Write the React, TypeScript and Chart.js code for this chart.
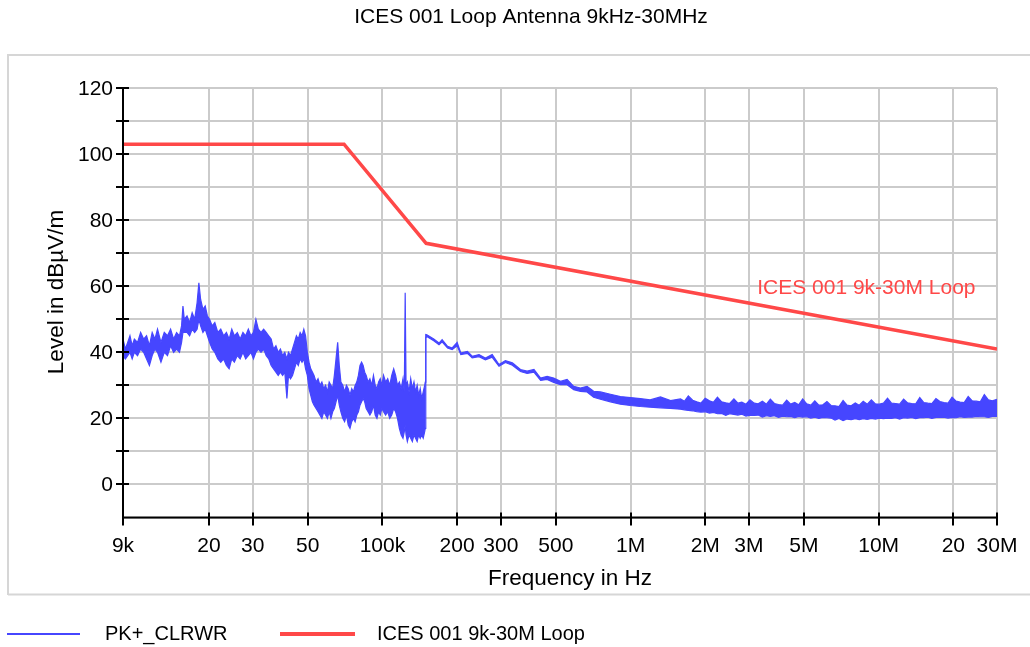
import React, { useEffect, useRef } from "react";
import { Chart, registerables } from "chart.js";

Chart.register(...registerables);

const chartTitle = "ICES 001 Loop Antenna 9kHz-30MHz";
const xAxisTitle = "Frequency in Hz";
const yAxisTitle = "Level in dBµV/m";
const pkName = "PK+_CLRWR";
const limitName = "ICES 001 9k-30M Loop";

const xTickValues = [9e3, 2e4, 3e4, 5e4, 1e5, 2e5, 3e5, 5e5, 1e6, 2e6, 3e6, 5e6, 1e7, 2e7, 3e7];
const xTickLabels = ["9k", "20", "30", "50", "100k", "200", "300", "500", "1M", "2M", "3M", "5M", "10M", "20", "30M"];
const yGridValues = [-10, 0, 10, 20, 30, 40, 50, 60, 70, 80, 90, 100, 110, 120];
const yLabelValues = [0, 20, 40, 60, 80, 100, 120];

// Limit line (frequency in kHz, level in dBµV/m)
const limitFreqKHz = [9, 70, 150, 30000];
const limitLevel = [103, 103, 73, 41];

// Label position of the limit-line annotation (data units)
const limitLabelFreq = 3.24e6;
const limitLabelLevel = 59.3;

// PK+ trace, read as upper / lower envelope at each frequency (kHz)
const pkFreqKHz = [
  9.0, 9.2, 9.4, 9.6, 9.8, 10.0, 10.3, 10.6, 10.9, 11.2, 11.5, 11.8, 12.1, 12.4, 12.8, 13.2, 13.6, 14.0, 14.4, 14.8,
  15.2, 15.5, 15.7, 15.9, 16.3, 16.7, 17.1, 17.5, 17.9, 18.2, 18.5, 18.9, 19.3, 19.7, 20.1, 20.6, 21.1, 21.7, 22.3, 22.9,
  23.5, 24.1, 24.7, 25.3, 26.0, 26.7, 27.4, 28.1, 28.8, 29.5, 30.2, 30.9, 31.6, 32.4, 33.2, 34.0, 34.8, 35.6, 36.4, 37.2,
  38.0, 38.8, 39.6, 40.4, 41.2, 41.8, 42.6, 43.4, 44.2, 45.0, 45.8, 46.6, 47.4, 48.2, 49.0, 49.8, 50.6, 51.4, 52.2, 53.0,
  54.0, 55.0, 56.0, 57.0, 58.0, 59.0, 60.0, 61.0, 62.0, 63.0, 64.0, 65.0, 66.0, 67.0, 68.0, 69.2, 70.4, 71.6, 72.8, 74.0,
  75.2, 76.4, 77.6, 78.8, 80.0, 81.2, 82.4, 83.6, 84.8, 86.0, 87.5, 89.0, 90.5, 92.0, 93.5, 95.0, 96.5, 98.0, 99.5, 101,
  103, 105, 107, 109, 111, 113, 115, 117, 119, 121, 122.5, 123.5, 124.5, 126, 128, 130, 132, 134, 136, 138,
  140, 142, 144, 146, 148, 148.8, 149.5,
  151, 161, 169, 174, 183, 191, 200, 207, 220, 230, 245, 260, 277, 295, 313, 334, 360, 383, 408, 434,
  461, 490, 522, 555, 590, 628, 668, 710, 756, 830, 910, 998, 1095, 1200, 1320, 1450, 1590,
  1650, 1710, 1780, 1850, 1920, 2000, 2080, 2160, 2240, 2330, 2420, 2510, 2610, 2710, 2810, 2920, 3030, 3150, 3270, 3400,
  3530, 3660, 3800, 3950, 4100, 4260, 4420, 4590, 4760, 4940, 5130, 5330, 5530, 5740, 5960, 6190, 6430, 6670, 6920, 7190,
  7460, 7750, 8050, 8350, 8670, 9000, 9350, 9700, 10070, 10460, 10860, 11270, 11700, 12150, 12610, 13090, 13590, 14110, 14650, 15210,
  15790, 16390, 17020, 17670, 18340, 19040, 19770, 20520, 21300, 22120, 22960, 23840, 24750, 25690, 26670, 27690, 28750, 30000,
];

const pkHigh = [
  44, 41, 43, 45, 42, 44, 43, 46, 44, 45, 42, 46, 44, 47, 43, 46, 45, 47, 44, 46,
  45, 48, 54, 50, 51, 49, 52, 50, 55, 61, 56, 53, 54, 51, 50, 48, 49, 46, 47, 45,
  46, 44, 47, 45, 46, 44, 46, 45, 47, 45, 46, 50, 47, 46, 47, 46, 45, 44, 41, 42,
  40, 41, 39, 40, 38, 40, 39, 41, 43, 45, 44, 46, 45, 47, 45, 40, 37, 35, 34, 33,
  31, 32, 30, 31, 29, 30, 28, 31, 30, 29, 33, 38, 43, 36, 31, 30, 28, 30, 29, 27,
  29, 28, 30, 31, 33, 36, 37, 36, 34, 33, 31, 32, 30, 33, 30, 29, 31, 32, 30, 33,
  31, 32, 30, 33, 35, 33, 30, 31, 29, 32, 28, 58, 30, 31, 28, 32, 29, 31, 28, 30,
  27, 29, 26, 28, 30, 31, 45.4,
  45.3, 44.0, 42.8, 43.8, 41.8, 41.3, 43.0, 39.8, 40.3, 38.8, 39.3, 38.3, 39.3, 36.3, 37.5, 36.8, 34.8, 34.3, 34.8, 32.2,
  32.7, 32.2, 31.2, 31.8, 29.7, 29.2, 29.7, 28.2, 28.0, 27.3, 26.6, 26.3, 26.0, 25.6, 26.5, 25.4, 25.9,
  25.2, 26.8, 25.5, 25.0, 24.6, 26.1, 25.3, 24.9, 26.4, 25.0, 24.7, 24.5, 25.9, 24.6, 24.9, 24.3, 25.6, 24.6, 24.4, 25.2,
  24.3, 25.8, 24.5, 24.2, 24.0, 25.5, 24.3, 24.8, 24.1, 25.9, 24.4, 24.0, 25.3, 24.0, 24.1, 25.1, 23.9, 23.8, 23.6, 25.4,
  24.0, 23.8, 24.7, 24.0, 25.2, 24.3, 25.6, 24.4, 24.3, 24.6, 26.1, 24.6, 24.5, 24.3, 25.8, 24.7, 24.5, 24.4, 26.3, 24.8,
  24.6, 24.5, 26.0, 25.1, 24.8, 24.6, 26.4, 25.2, 24.9, 24.8, 26.6, 25.3, 25.2, 25.0, 27.2, 25.6, 25.3, 25.8,
];

const pkLow = [
  39, 38, 39, 40, 38, 40, 39, 41, 40, 38, 36, 39, 41, 40, 37, 40, 39, 42, 40, 41,
  40, 43, 46, 46, 46, 45, 47, 46, 47, 50, 48, 46, 47, 45, 43, 41, 40, 38, 37, 38,
  36, 35, 38, 37, 39, 38, 40, 38, 39, 40, 38, 40, 41, 40, 41, 39, 38, 36, 35, 34,
  33, 34, 33, 34, 26, 33, 32, 33, 35, 37, 36, 38, 37, 38, 35, 33, 29, 27, 25, 24,
  23, 22, 21, 20, 22, 21, 20, 22, 20, 22, 23, 25, 27, 24, 22, 20, 19, 21, 18, 17,
  19, 20, 19, 21, 22, 24, 25, 26, 25, 23, 22, 21, 22, 24, 21, 20, 22, 21, 23, 22,
  21, 22, 20, 21, 23, 22, 20, 17, 15, 14, 16, 18, 15, 13, 15, 14, 13, 15, 14, 13,
  15, 14, 15, 14, 16, 17, 44.4,
  44.8, 43.5, 42.3, 43.2, 41.3, 40.8, 42.0, 39.3, 39.7, 38.3, 38.7, 37.7, 38.5, 35.8, 36.9, 36.1, 34.2, 33.6, 34.0, 31.5,
  31.8, 30.9, 30.2, 30.2, 28.7, 28.2, 28.0, 26.4, 25.8, 25.0, 24.3, 23.9, 23.6, 23.4, 23.2, 23.0, 22.8,
  22.6, 22.4, 22.3, 22.0, 21.9, 22.0, 21.6, 21.8, 21.4, 21.5, 20.9, 21.4, 21.2, 21.0, 21.3, 20.7, 21.0, 20.9, 21.0, 20.4,
  20.8, 20.6, 20.8, 20.3, 20.7, 20.5, 20.6, 20.2, 20.6, 20.4, 20.5, 20.1, 20.4, 20.0, 20.3, 20.2, 20.1, 19.5, 20.0, 19.3,
  19.8, 19.6, 19.9, 19.6, 19.9, 19.7, 20.0, 19.8, 20.1, 19.9, 20.1, 20.0, 20.2, 19.8, 20.2, 20.1, 20.3, 19.9, 20.2, 20.2,
  20.4, 20.0, 20.3, 20.3, 20.4, 20.1, 20.3, 20.2, 20.5, 20.3, 20.4, 20.4, 20.6, 20.5, 20.5, 20.3, 20.6, 20.6,
];

const BLUE = "#4646ff";
const RED = "#ff4848";
const FONT = '"Liberation Sans", Arial, sans-serif';

const decorPlugin = {
  id: "decor",
  beforeDraw(chart: any) {
    const ctx = chart.ctx;
    ctx.save();
    ctx.fillStyle = "#ffffff";
    ctx.fillRect(0, 0, chart.width, chart.height);
    ctx.strokeStyle = "#d6d6d6";
    ctx.lineWidth = 2;
    ctx.beginPath();
    ctx.moveTo(8, 595);
    ctx.lineTo(8, 55);
    ctx.lineTo(chart.width, 55);
    ctx.moveTo(8, 594.5);
    ctx.lineTo(chart.width, 594.5);
    ctx.stroke();
    ctx.restore();
  },
  afterDatasetsDraw(chart: any) {
    const ctx = chart.ctx;
    const xs = chart.scales.x;
    const ys = chart.scales.y;
    const { left, right, top, bottom } = chart.chartArea;
    ctx.save();
    ctx.strokeStyle = "#000000";
    ctx.lineWidth = 2;
    ctx.beginPath();
    ctx.moveTo(left, top);
    ctx.lineTo(left, bottom);
    ctx.lineTo(right, bottom);
    yGridValues.forEach((v) => {
      if (v === yGridValues[0]) return;
      const py = Math.round(ys.getPixelForValue(v));
      ctx.moveTo(left - 7, py);
      ctx.lineTo(left + 6, py);
    });
    xTickValues.forEach((v) => {
      const px = Math.round(xs.getPixelForValue(v));
      ctx.moveTo(px, bottom - 5);
      ctx.lineTo(px, bottom + 8);
    });
    ctx.stroke();
    ctx.restore();
  },
  afterDraw(chart: any) {
    const ctx = chart.ctx;
    const xs = chart.scales.x;
    const ys = chart.scales.y;
    const { left } = chart.chartArea;
    ctx.save();
    ctx.fillStyle = "#000000";
    ctx.textBaseline = "middle";

    ctx.font = `21px ${FONT}`;
    ctx.textAlign = "center";
    ctx.fillText(chartTitle, 531, 17);

    ctx.textAlign = "right";
    yLabelValues.forEach((v) => {
      ctx.fillText(String(v), left - 10, ys.getPixelForValue(v) + 1);
    });

    ctx.textAlign = "center";
    xTickValues.forEach((v, i) => {
      ctx.fillText(xTickLabels[i], xs.getPixelForValue(v), 546);
    });

    ctx.font = `22.5px ${FONT}`;
    ctx.fillText(xAxisTitle, 570, 579);
    ctx.save();
    ctx.translate(57, 292);
    ctx.rotate(-Math.PI / 2);
    ctx.fillText(yAxisTitle, 0, 0);
    ctx.restore();

    ctx.font = `21px ${FONT}`;
    ctx.fillStyle = RED;
    ctx.textAlign = "left";
    ctx.fillText(limitName, xs.getPixelForValue(limitLabelFreq), ys.getPixelForValue(limitLabelLevel));

    const ly = 634;
    ctx.strokeStyle = BLUE;
    ctx.lineWidth = 2;
    ctx.beginPath();
    ctx.moveTo(7, ly);
    ctx.lineTo(80, ly);
    ctx.stroke();
    ctx.strokeStyle = RED;
    ctx.lineWidth = 4;
    ctx.beginPath();
    ctx.moveTo(280, ly);
    ctx.lineTo(355, ly);
    ctx.stroke();
    ctx.fillStyle = "#000000";
    ctx.font = `20px ${FONT}`;
    ctx.fillText(pkName, 105, ly);
    ctx.fillText(limitName, 377, ly);
    ctx.restore();
  },
};

export default function App() {
  const ref = useRef<HTMLCanvasElement>(null);

  useEffect(() => {
    const canvas = ref.current;
    if (!canvas) return;
    const pkHighData = pkFreqKHz.map((f, i) => ({ x: f * 1000, y: pkHigh[i] }));
    const pkLowData = pkFreqKHz.map((f, i) => ({ x: f * 1000, y: pkLow[i] }));
    const limitData = limitFreqKHz.map((f, i) => ({ x: f * 1000, y: limitLevel[i] }));

    const chart = new Chart(canvas, {
      type: "line",
      data: {
        datasets: [
          {
            label: pkName,
            data: pkHighData,
            borderColor: BLUE,
            backgroundColor: BLUE,
            borderWidth: 1.2,
            pointRadius: 0,
            tension: 0,
            fill: "+1",
          },
          {
            label: pkName + " low",
            data: pkLowData,
            borderColor: BLUE,
            backgroundColor: BLUE,
            borderWidth: 1.2,
            pointRadius: 0,
            tension: 0,
            fill: false,
          },
          {
            label: limitName,
            data: limitData,
            borderColor: RED,
            backgroundColor: RED,
            borderWidth: 3.5,
            pointRadius: 0,
            tension: 0,
            fill: false,
          },
        ],
      },
      options: {
        responsive: false,
        animation: false,
        events: [],
        layout: { padding: { left: 0, right: 33, top: 88, bottom: 0 } },
        plugins: {
          legend: { display: false },
          title: { display: false },
          tooltip: { enabled: false },
        },
        scales: {
          x: {
            type: "logarithmic",
            min: 9000,
            max: 3e7,
            afterBuildTicks: (s: any) => {
              s.ticks = xTickValues.map((v) => ({ value: v }));
            },
            afterFit: (s: any) => {
              s.height = 129.5;
            },
            ticks: { display: false },
            grid: { color: "#cbcbcb", lineWidth: 2, drawTicks: false },
            border: { display: false },
          },
          y: {
            type: "linear",
            min: -10,
            max: 120,
            afterBuildTicks: (s: any) => {
              s.ticks = yGridValues.map((v) => ({ value: v }));
            },
            afterFit: (s: any) => {
              s.width = 123;
            },
            ticks: { display: false },
            grid: { color: "#cbcbcb", lineWidth: 2, drawTicks: false },
            border: { display: false },
          },
        },
      },
      plugins: [decorPlugin],
    });
    return () => chart.destroy();
  }, []);

  return (
    <div style={{ position: "fixed", left: 0, top: 0, width: 1030, height: 647, background: "#fff" }}>
      <canvas ref={ref} width={1030} height={647} style={{ display: "block" }} />
    </div>
  );
}
